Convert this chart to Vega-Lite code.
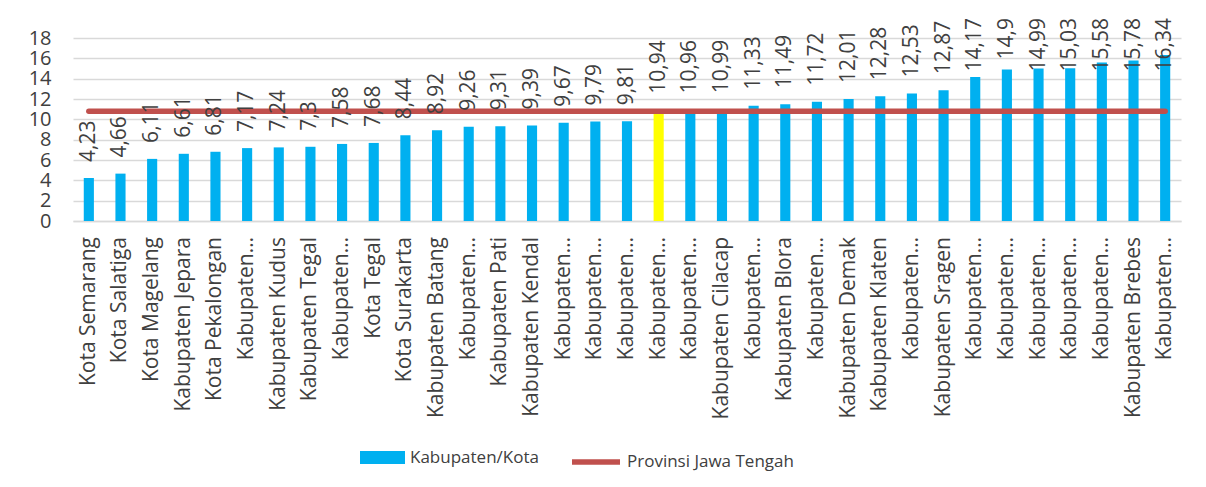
{
  "$schema": "https://vega.github.io/schema/vega-lite/v6.json",
  "width": 1108,
  "height": 183,
  "autosize": {"type": "none"},
  "padding": {"left": 73, "top": 38, "right": 25, "bottom": 266},
  "background": "white",
  "config": {
    "font": "Open Sans",
    "view": {"stroke": null},
    "locale": {"number": {"decimal": ",", "thousands": ".", "grouping": [3], "currency": ["Rp", ""]}},
    "axisY": {
      "tickCount": 10,
      "labelOverlap": false,
      "grid": true,
      "gridColor": "#D9D9D9",
      "gridWidth": 1.5,
      "domain": false,
      "ticks": false,
      "labelFontSize": 20,
      "labelColor": "#404040",
      "labelPadding": 22,
      "title": null
    }
  },
  "data": {"values": [
    {"no": 1, "wilayah": "Kota Semarang", "nilai": 4.23, "provinsi": 10.8},
    {"no": 2, "wilayah": "Kota Salatiga", "nilai": 4.66, "provinsi": 10.8},
    {"no": 3, "wilayah": "Kota Magelang", "nilai": 6.11, "provinsi": 10.8},
    {"no": 4, "wilayah": "Kabupaten Jepara", "nilai": 6.61, "provinsi": 10.8},
    {"no": 5, "wilayah": "Kota Pekalongan", "nilai": 6.81, "provinsi": 10.8},
    {"no": 6, "wilayah": "Kabupaten…", "nilai": 7.17, "provinsi": 10.8},
    {"no": 7, "wilayah": "Kabupaten Kudus", "nilai": 7.24, "provinsi": 10.8},
    {"no": 8, "wilayah": "Kabupaten Tegal", "nilai": 7.3, "provinsi": 10.8},
    {"no": 9, "wilayah": "Kabupaten…", "nilai": 7.58, "provinsi": 10.8},
    {"no": 10, "wilayah": "Kota Tegal", "nilai": 7.68, "provinsi": 10.8},
    {"no": 11, "wilayah": "Kota Surakarta", "nilai": 8.44, "provinsi": 10.8},
    {"no": 12, "wilayah": "Kabupaten Batang", "nilai": 8.92, "provinsi": 10.8},
    {"no": 13, "wilayah": "Kabupaten…", "nilai": 9.26, "provinsi": 10.8},
    {"no": 14, "wilayah": "Kabupaten Pati", "nilai": 9.31, "provinsi": 10.8},
    {"no": 15, "wilayah": "Kabupaten Kendal", "nilai": 9.39, "provinsi": 10.8},
    {"no": 16, "wilayah": "Kabupaten…", "nilai": 9.67, "provinsi": 10.8},
    {"no": 17, "wilayah": "Kabupaten…", "nilai": 9.79, "provinsi": 10.8},
    {"no": 18, "wilayah": "Kabupaten…", "nilai": 9.81, "provinsi": 10.8},
    {"no": 19, "wilayah": "Kabupaten…", "nilai": 10.94, "provinsi": 10.8},
    {"no": 20, "wilayah": "Kabupaten…", "nilai": 10.96, "provinsi": 10.8},
    {"no": 21, "wilayah": "Kabupaten Cilacap", "nilai": 10.99, "provinsi": 10.8},
    {"no": 22, "wilayah": "Kabupaten…", "nilai": 11.33, "provinsi": 10.8},
    {"no": 23, "wilayah": "Kabupaten Blora", "nilai": 11.49, "provinsi": 10.8},
    {"no": 24, "wilayah": "Kabupaten…", "nilai": 11.72, "provinsi": 10.8},
    {"no": 25, "wilayah": "Kabupaten Demak", "nilai": 12.01, "provinsi": 10.8},
    {"no": 26, "wilayah": "Kabupaten Klaten", "nilai": 12.28, "provinsi": 10.8},
    {"no": 27, "wilayah": "Kabupaten…", "nilai": 12.53, "provinsi": 10.8},
    {"no": 28, "wilayah": "Kabupaten Sragen", "nilai": 12.87, "provinsi": 10.8},
    {"no": 29, "wilayah": "Kabupaten…", "nilai": 14.17, "provinsi": 10.8},
    {"no": 30, "wilayah": "Kabupaten…", "nilai": 14.9, "provinsi": 10.8},
    {"no": 31, "wilayah": "Kabupaten…", "nilai": 14.99, "provinsi": 10.8},
    {"no": 32, "wilayah": "Kabupaten…", "nilai": 15.03, "provinsi": 10.8},
    {"no": 33, "wilayah": "Kabupaten…", "nilai": 15.58, "provinsi": 10.8},
    {"no": 34, "wilayah": "Kabupaten Brebes", "nilai": 15.78, "provinsi": 10.8},
    {"no": 35, "wilayah": "Kabupaten…", "nilai": 16.34, "provinsi": 10.8}
  ]},
  "encoding": {
    "x": {
      "field": "no",
      "type": "ordinal",
      "scale": {"paddingInner": 0.68, "paddingOuter": 0.34},
      "axis": {"labels": false, "ticks": false, "title": null, "grid": false, "domainColor": "#D9D9D9", "domainWidth": 1.5}
    }
  },
  "layer": [
    {
      "mark": {"type": "bar"},
      "encoding": {
        "y": {
          "field": "nilai",
          "type": "quantitative",
          "scale": {"domain": [0, 18], "nice": false},
          "axis": {"values": [0, 2, 4, 6, 8, 10, 12, 14, 16, 18]}
        },
        "fill": {
          "condition": {"test": "datum.no === 19", "value": "#FFFF00"},
          "datum": "Kabupaten/Kota",
          "scale": {"domain": ["Kabupaten/Kota"], "range": ["#00B0F0"]},
          "legend": {
            "title": null,
            "orient": "none",
            "legendX": 287,
            "legendY": 397,
            "padding": 0,
            "symbolType": "M-1,-0.29H1V0.29H-1Z",
            "symbolSize": 2025,
            "symbolStrokeWidth": 0,
            "labelFontSize": 17,
            "labelLimit": 400,
            "labelColor": "#404040",
            "labelOffset": 5
          }
        }
      }
    },
    {
      "mark": {"type": "line", "strokeWidth": 5.5, "strokeCap": "round"},
      "encoding": {
        "y": {"field": "provinsi", "type": "quantitative", "axis": {"values": [0, 2, 4, 6, 8, 10, 12, 14, 16, 18]}},
        "stroke": {
          "datum": "Provinsi Jawa Tengah",
          "scale": {"domain": ["Provinsi Jawa Tengah"], "range": ["#C0504D"]},
          "legend": {
            "title": null,
            "orient": "none",
            "legendX": 496,
            "legendY": 397,
            "padding": 0,
            "symbolType": "stroke",
            "symbolSize": 2304,
            "symbolStrokeWidth": 5.5,
            "labelFontSize": 17,
            "labelLimit": 400,
            "labelColor": "#404040",
            "labelOffset": 4
          }
        }
      }
    },
    {
      "transform": [{"filter": "datum.nilai < 13.5"}],
      "mark": {"type": "text", "angle": 270, "align": "left", "baseline": "middle", "dx": 16, "fontSize": 21, "color": "#404040"},
      "encoding": {
        "y": {"field": "nilai", "type": "quantitative", "axis": {"values": [0, 2, 4, 6, 8, 10, 12, 14, 16, 18]}},
        "text": {"field": "nilai", "type": "quantitative", "format": ".2~f"}
      }
    },
    {
      "transform": [{"filter": "datum.nilai >= 13.5"}],
      "mark": {"type": "text", "angle": 270, "align": "right", "baseline": "middle", "dx": 20, "fontSize": 21, "color": "#404040"},
      "encoding": {
        "y": {"datum": 18, "type": "quantitative", "axis": {"values": [0, 2, 4, 6, 8, 10, 12, 14, 16, 18]}},
        "text": {"field": "nilai", "type": "quantitative", "format": ".2~f"}
      }
    },
    {
      "mark": {"type": "text", "angle": 270, "align": "right", "baseline": "middle", "dx": -16, "fontSize": 21, "color": "#404040"},
      "encoding": {
        "y": {"datum": 0, "type": "quantitative", "axis": {"values": [0, 2, 4, 6, 8, 10, 12, 14, 16, 18]}},
        "text": {"field": "wilayah"}
      }
    }
  ]
}
